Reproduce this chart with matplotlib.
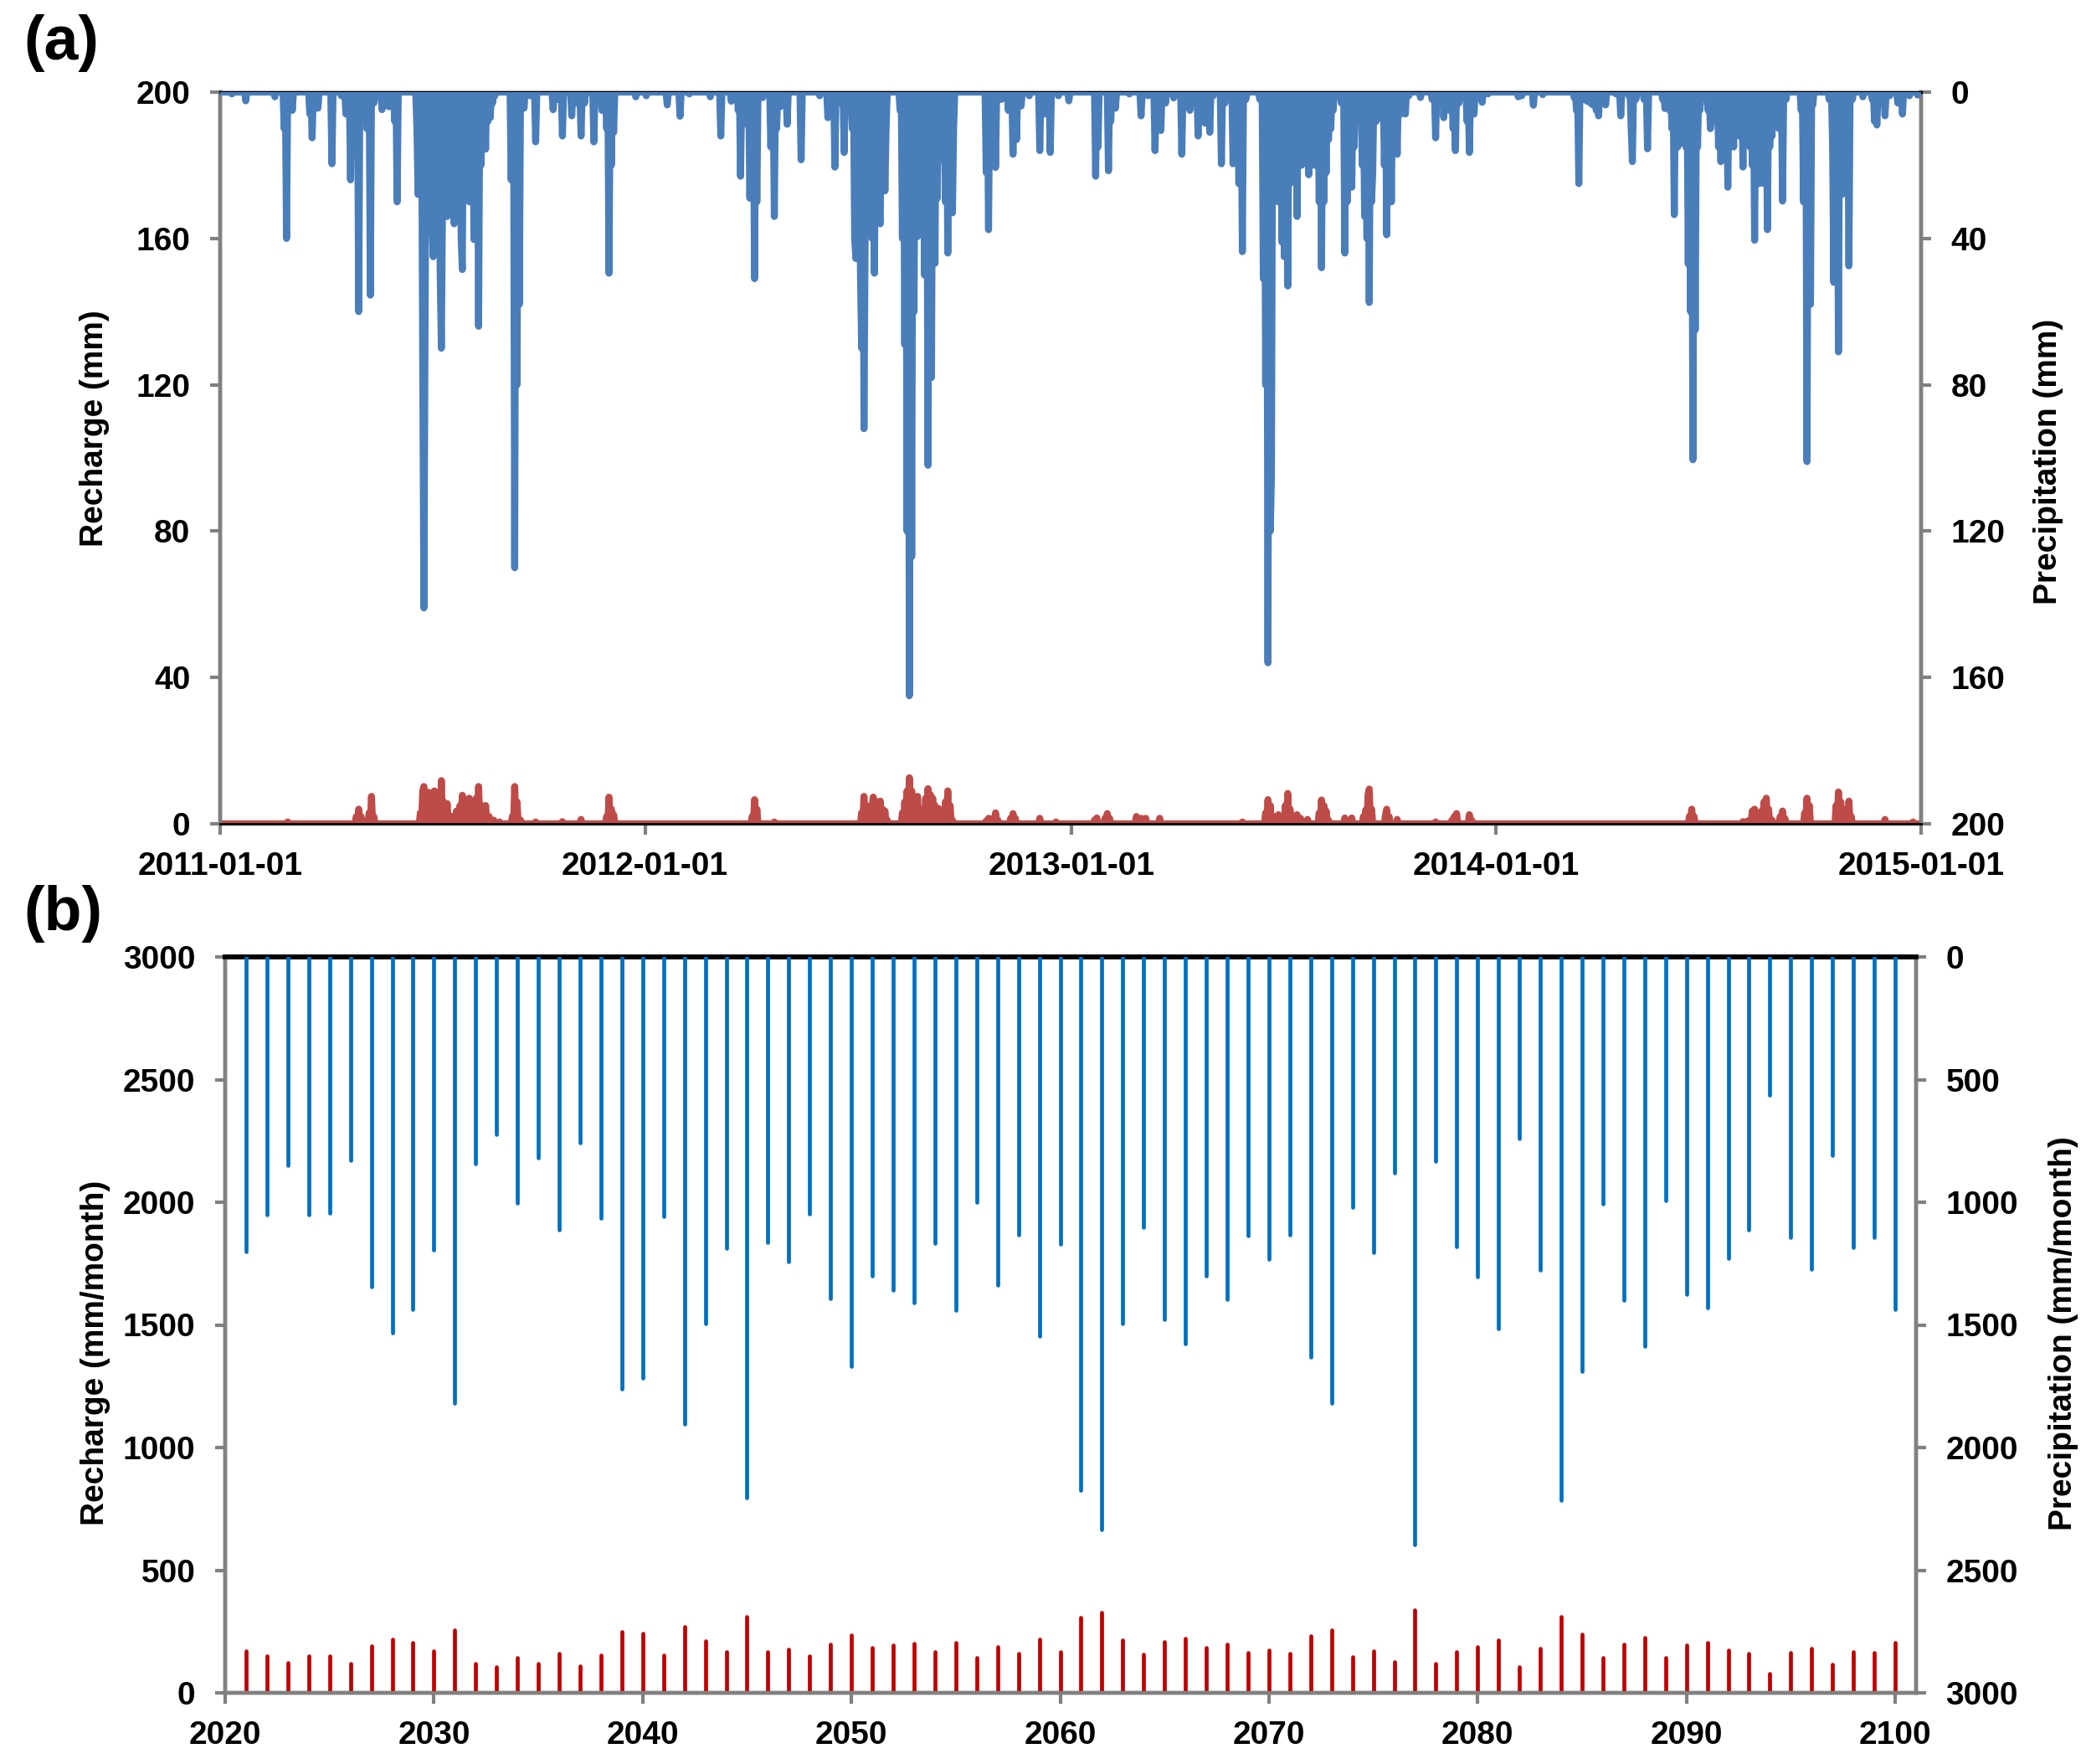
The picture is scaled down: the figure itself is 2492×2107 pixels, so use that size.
import numpy as np
import pandas as pd
import matplotlib
matplotlib.use("Agg")
import matplotlib.pyplot as plt
import matplotlib.dates as mdates
from matplotlib.ticker import MultipleLocator

plt.rcParams['font.family'] = ['Liberation Sans', 'DejaVu Sans']
plt.rcParams['font.weight'] = 'bold'

# ---- panel (a): daily series, (day of year, mm) ----
precip_2011 = [(10, 0.5), (22, 2.4), (47, 1.3), (55, 10), (57, 40), (62, 5), (77, 6), (79, 12.5),
               (84, 4.4), (96, 19.6), (104, 1), (108, 6), (112, 24), (115, 8), (119, 60), (122, 6),
               (124, 2), (126, 10), (129, 55.5), (132, 3), (139, 4.8), (145, 4), (150, 8), (152, 30),
               (169, 10), (170, 28), (172, 15), (174, 75), (175, 141), (176, 65), (178, 30),
               (180, 25), (182, 35), (183, 45), (185, 20), (187, 30), (189, 50), (190, 70),
               (191, 30), (192, 4.4), (194, 25), (195, 34), (197, 16), (199, 25), (201, 36),
               (203, 18), (205, 25), (207, 40), (208, 48.5), (210, 20), (212, 28), (214, 30),
               (216, 30), (218, 40.3), (220, 40), (222, 64), (224, 20), (226, 15), (228, 15.6),
               (230, 8), (232, 7), (234, 3), (236, 1), (250, 24), (253, 130), (255, 80), (257, 58),
               (261, 4.4), (266, 1), (271, 13.6), (286, 4.8), (290, 2), (294, 12), (302, 6.5),
               (306, 3), (310, 12), (313, 3), (321, 13.6), (328, 5), (332, 10), (334, 49.5),
               (336, 20), (338, 11), (357, 1.3)]
precip_2012 = [(1, 1), (19, 3.5), (30, 6.6), (38, 0.5), (56, 1.3), (65, 12), (74, 2.5), (80, 5),
               (82, 23), (85, 8), (88, 9), (90, 29), (92, 20), (94, 51), (96, 30), (101, 1.5),
               (108, 15), (111, 34), (113, 10), (116, 4), (122, 8.8), (134, 18.5), (150, 1),
               (157, 7), (160, 5), (163, 20.5), (167, 3), (171, 16.5), (178, 10), (180, 40),
               (181, 45.5), (183, 20), (185, 50), (186, 70), (188, 92), (189, 40), (191, 8.5),
               (193, 25), (195, 40), (197, 49.5), (199, 25), (201, 33), (202, 36), (204, 20),
               (206, 27), (207, 10), (219, 5), (221, 40), (223, 69), (225, 120), (227, 165),
               (229, 127), (231, 60), (234, 39.5), (236, 25), (238, 22), (240, 50), (243, 102),
               (246, 78), (249, 46.8), (251, 29), (253, 18.5), (256, 13), (258, 30), (260, 44),
               (262, 30), (264, 33), (265, 10), (293, 22), (295, 37.6), (297, 10), (301, 20.6),
               (306, 2), (312, 5), (316, 17), (319, 13), (323, 3.8), (330, 1), (339, 16), (343, 6),
               (348, 16.5), (355, 1), (364, 2.4)]
precip_2013 = [(21, 23), (23, 15), (32, 21.5), (34, 8), (38, 4.4), (50, 0.5), (60, 6.5), (66, 1),
               (72, 16), (75, 8), (77, 10.5), (81, 3), (88, 1.6), (95, 17), (102, 5), (105, 3),
               (109, 12), (112, 6), (115, 8.5), (119, 11), (122, 1), (129, 19.6), (132, 3),
               (139, 19.6), (144, 25), (147, 43.6), (150, 2), (162, 2), (165, 51), (167, 80),
               (169, 156), (171, 120), (172, 105), (174, 30), (176, 23), (178, 30), (181, 41),
               (183, 45), (186, 53), (188, 25), (190, 7), (192, 20), (194, 34), (196, 20),
               (198, 20), (200, 18), (202, 15), (204, 22.6), (206, 18), (209, 20), (211, 18),
               (213, 30), (215, 48), (217, 30), (219, 22), (221, 13), (223, 10), (225, 5),
               (232, 3), (235, 44), (237, 30), (241, 26), (243, 15), (246, 2), (250, 20),
               (252, 34), (254, 40), (256, 57.5), (258, 30), (259, 22), (262, 8), (266, 7),
               (269, 20), (271, 39), (273, 30), (275, 30), (278, 15), (280, 17), (283, 6),
               (287, 6), (290, 1), (300, 1.5), (310, 2), (313, 12.5), (316, 2), (320, 7),
               (325, 5), (328, 10), (330, 16), (333, 3), (340, 8), (342, 16.5), (346, 6),
               (353, 2.8), (358, 0.5)]
precip_2014 = [(19, 1.3), (22, 1), (32, 3.6), (40, 0.7), (67, 1.5), (69, 5), (71, 25), (74, 2),
               (78, 2.5), (81, 3), (83, 3.5), (86, 5), (88, 6.5), (94, 3.5), (103, 0.5),
               (107, 6.5), (114, 1), (116, 10), (117, 19), (120, 2), (127, 2), (130, 15.5),
               (143, 2), (145, 4.5), (149, 5), (151, 10), (153, 33.5), (156, 15), (160, 14),
               (163, 15), (165, 47), (167, 60), (169, 100.5), (171, 65), (173, 15), (175, 5),
               (182, 5), (184, 10), (186, 5), (189, 8), (191, 15), (193, 19), (195, 10),
               (197, 15), (199, 26), (201, 15), (204, 15), (207, 10), (209, 12), (212, 20.5),
               (215, 13), (218, 15), (220, 20), (222, 40.5), (224, 25), (226, 25), (228, 20),
               (230, 25), (233, 37.6), (235, 15), (237, 12), (240, 3.5), (243, 10), (246, 29.8),
               (249, 2), (262, 5), (264, 30), (267, 101), (270, 58), (272, 3.5), (286, 2),
               (289, 15), (290, 52), (294, 71), (297, 28), (300, 20), (303, 47.5), (306, 2),
               (315, 1.3), (323, 2), (325, 8), (327, 9), (330, 3), (334, 6.5), (338, 1),
               (345, 3), (349, 6), (355, 1), (362, 0.8)]

recharge_2011 = [(58, 0.5), (117, 2), (119, 4), (121, 2), (128, 3), (130, 7.5), (132, 2), (172, 3),
                 (174, 9), (175, 10.2), (177, 8), (179, 8.6), (181, 6), (184, 9), (187, 7),
                 (190, 11.8), (192, 6), (195, 5.5), (197, 2.2), (200, 2), (203, 3.5), (206, 5),
                 (208, 7.8), (210, 5), (214, 7), (216, 5), (218, 5.1), (220, 7), (222, 10.2),
                 (224, 5), (226, 3), (228, 5), (231, 2), (235, 1), (240, 0.5), (251, 2),
                 (253, 10.2), (255, 6), (258, 1), (271, 0.5), (294, 0.6), (310, 1.2), (332, 2),
                 (334, 7.3), (336, 4), (338, 2.5)]
recharge_2012 = [(92, 2), (94, 6.6), (96, 4), (111, 0.5), (186, 3), (188, 7.5), (190, 5), (195, 5),
                 (196, 7.3), (199, 6), (202, 6.2), (204, 4), (206, 3.5), (208, 1), (221, 3),
                 (223, 6), (225, 9), (227, 12.6), (229, 9), (231, 6), (234, 7.5), (236, 4),
                 (239, 3), (241, 7), (243, 9.6), (245, 8), (247, 7), (249, 5), (252, 4.2),
                 (255, 1), (258, 6), (260, 9), (262, 5), (264, 1), (293, 0.8), (295, 1.5),
                 (299, 1.5), (301, 3), (303, 1), (314, 1.5), (316, 2.8), (318, 1.5), (339, 1.5),
                 (353, 0.5)]
recharge_2013 = [(20, 1), (22, 1.6), (29, 1.5), (31, 2.8), (33, 1.5), (56, 2), (60, 1.5), (64, 1.5),
                 (76, 1.5), (147, 0.5), (167, 3), (169, 6.6), (171, 5), (176, 2), (178, 2.5),
                 (184, 5), (186, 8.3), (188, 4), (194, 2.5), (197, 1.5), (203, 1.2), (213, 3),
                 (215, 6.5), (217, 5), (219, 3.5), (221, 1), (235, 1.6), (241, 1.6), (251, 2),
                 (253, 3.8), (255, 8), (256, 9.5), (258, 4), (270, 2.5), (271, 4), (273, 2),
                 (280, 1.2), (313, 0.5), (327, 1), (329, 2), (331, 2.8), (342, 2.5), (344, 1)]
recharge_2014 = [(166, 2), (168, 4), (170, 2), (212, 0.6), (216, 0.8), (220, 3.5), (222, 4),
                 (225, 2), (228, 3.5), (230, 6), (232, 7), (234, 4), (237, 1), (244, 2), (246, 3.5),
                 (248, 1.5), (265, 3), (267, 7), (269, 5), (292, 5), (294, 8.7), (296, 6),
                 (301, 4), (303, 6.2), (305, 2), (334, 1.2), (358, 0.5)]

# ---- panel (b): annual values 2021-2100 ----
years = list(range(2021, 2101))
precip_annual = [1202, 1052, 851, 1050, 1046, 830, 1345, 1532, 1437, 1195,
                 1819, 842, 725, 1002, 819, 1113, 756, 1065, 1760, 1716,
                 1057, 1905, 1494, 1187, 2206, 1164, 1242, 1048, 1391, 1670,
                 1300, 1359, 1410, 1166, 1439, 1000, 1338, 1132, 1546, 1170,
                 2174, 2336, 1494, 1101, 1479, 1576, 1300, 1395, 1137, 1231,
                 1132, 1632, 1819, 1021, 1206, 882, 2395, 834, 1181, 1305,
                 1517, 739, 1277, 2214, 1689, 1006, 1399, 1586, 994, 1374,
                 1431, 1229, 1113, 563, 1145, 1273, 809, 1185, 1145, 1437]
recharge_annual = [172, 149, 122, 149, 149, 118, 191, 218, 204, 170,
                   256, 120, 105, 143, 118, 160, 109, 153, 250, 242,
                   153, 269, 212, 168, 311, 166, 176, 149, 197, 235,
                   183, 193, 200, 166, 204, 143, 189, 162, 218, 166,
                   307, 328, 214, 158, 208, 221, 183, 197, 164, 174,
                   160, 231, 256, 147, 172, 126, 338, 118, 166, 187,
                   214, 107, 181, 311, 239, 145, 197, 225, 143, 193,
                   204, 174, 160, 80, 164, 181, 116, 168, 164, 204]

GRAY = '#808080'
BLUE_A, RED_A = '#4A7EBB', '#BE4B48'
BLUE_B, RED_B = '#0070C0', '#C00000'
FS = 14


def daily(events_by_year):
    days = pd.date_range('2011-01-01', '2015-01-01', freq='D')
    s = pd.Series(0.0, index=days)
    for year, events in events_by_year.items():
        start = pd.Timestamp(f'{year}-01-01')
        for d, v in events:
            s[start + pd.Timedelta(days=d)] = v
    return s


precip = daily({2011: precip_2011, 2012: precip_2012, 2013: precip_2013, 2014: precip_2014})
recharge = daily({2011: recharge_2011, 2012: recharge_2012, 2013: recharge_2013, 2014: recharge_2014})

fig = plt.figure(figsize=(12.46, 10.535), dpi=200)
W, H = 2492, 2107
ax_a = fig.add_axes([263 / W, 1 - 984 / H, (2295 - 263) / W, (984 - 110) / H])
ax_b = fig.add_axes([269 / W, 1 - 2022 / H, (2289 - 269) / W, (2022 - 1143) / H])


def style(ax, ax2, top_lw):
    for a in (ax, ax2):
        a.spines['left'].set_color(GRAY)
        a.spines['left'].set_linewidth(1.6)
        a.spines['right'].set_color(GRAY)
        a.spines['right'].set_linewidth(1.6)
        a.spines['top'].set_color('black')
        a.spines['top'].set_linewidth(top_lw)
        a.spines['bottom'].set_color('black')
        a.spines['bottom'].set_linewidth(1.0)
        a.tick_params(axis='y', direction='out', length=4.3, width=1.5, color=GRAY,
                      labelsize=FS, pad=8.5)
    ax.tick_params(axis='x', direction='out', length=4.5, width=1.5, color=GRAY,
                   labelsize=FS, pad=7.5)


# panel (a)
ax_a2 = ax_a.twinx()
ax_a.plot(recharge.index, recharge.values, color=RED_A, lw=3.0,
          solid_joinstyle='round', solid_capstyle='round', zorder=3)
ax_a2.plot(precip.index, precip.values, color=BLUE_A, lw=3.0,
           solid_joinstyle='round', solid_capstyle='round', zorder=3)
ax_a.set_xlim(pd.Timestamp('2011-01-01'), pd.Timestamp('2015-01-01'))
ax_a.set_ylim(0, 200)
ax_a2.set_ylim(200, 0)
ax_a.set_yticks(range(0, 201, 40))
ax_a2.set_yticks(range(0, 201, 40))
ax_a.xaxis.set_major_locator(mdates.YearLocator())
ax_a.xaxis.set_major_formatter(mdates.DateFormatter('%Y-%m-%d'))
style(ax_a, ax_a2, 1.2)
ax_a.set_ylabel('Recharge (mm)', fontsize=FS, fontweight='bold')
ax_a.yaxis.set_label_coords(-0.065, 0.54)
ax_a2.set_ylabel('Precipitation (mm)', fontsize=FS, fontweight='bold')
ax_a2.yaxis.set_label_coords(1.066, 0.495)

# panel (b)
ax_b2 = ax_b.twinx()
ax_b.vlines(years, 0, recharge_annual, color=RED_B, lw=1.7, capstyle='round', zorder=3)
ax_b2.vlines(years, 0, precip_annual, color=BLUE_B, lw=1.7, capstyle='round', zorder=3)
ax_b.set_xlim(2020, 2101)
ax_b.set_ylim(0, 3000)
ax_b2.set_ylim(3000, 0)
ax_b.yaxis.set_major_locator(MultipleLocator(500))
ax_b2.yaxis.set_major_locator(MultipleLocator(500))
ax_b.xaxis.set_major_locator(MultipleLocator(10))
style(ax_b, ax_b2, 2.0)
for a in (ax_b, ax_b2):
    a.spines['bottom'].set_color(GRAY)
    a.spines['bottom'].set_linewidth(1.6)
ax_b.set_ylabel('Recharge (mm/month)', fontsize=FS, fontweight='bold')
ax_b.yaxis.set_label_coords(-0.068, 0.462)
ax_b2.set_ylabel('Precipitation (mm/month)', fontsize=FS, fontweight='bold')
ax_b2.yaxis.set_label_coords(1.078, 0.489)

fig.text(28 / W, 1 - 51 / H, '(a)', fontsize=26.5, fontweight='bold', ha='left', va='center')
fig.text(28 / W, 1 - 1091 / H, '(b)', fontsize=26.5, fontweight='bold', ha='left', va='center')

fig.savefig('out.png', dpi=200)
